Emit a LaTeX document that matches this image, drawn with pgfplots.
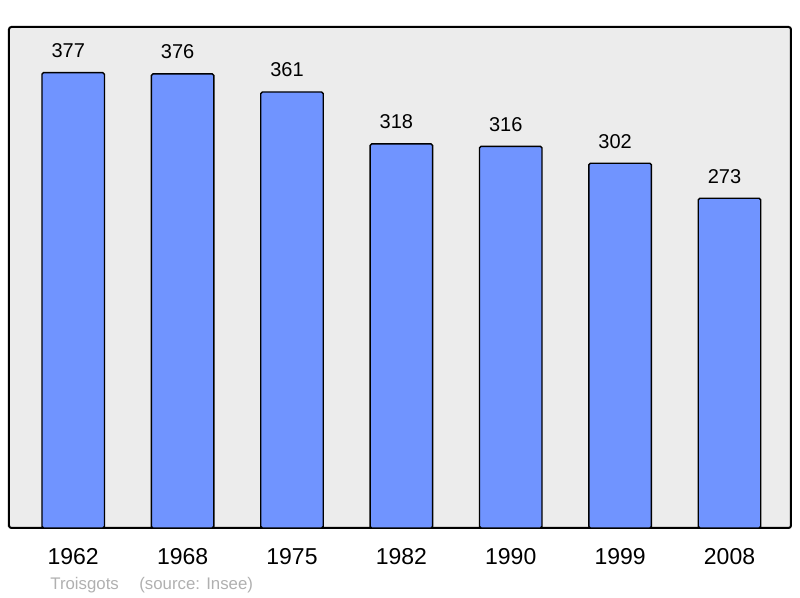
\documentclass[border=0pt]{standalone}
\usepackage{fontspec}
\setmainfont{Liberation Sans}
\usepackage{pgfplots}
\pgfplotsset{compat=1.18}
\definecolor{panelgray}{RGB}{236,236,236}
\definecolor{barblue}{RGB}{112,148,255}
\definecolor{notegray}{RGB}{176,176,176}

\begin{document}
\begin{tikzpicture}
\useasboundingbox (0,0) rectangle (400pt,299pt);
\begin{axis}[
  at={(4.5pt,35pt)},anchor=south west,
  scale only axis,width=391pt,height=250.5pt,
  xmin=-0.587,xmax=6.562,ymin=0,ymax=414.8,
  axis background/.style={fill=panelgray},
  axis line style={line width=1pt,rounded corners=1.2pt},
  ytick=\empty,
  xtick={0,...,6},
  xticklabels={1962,1968,1975,1982,1990,1999,2008},
  major tick length=0pt,
  xticklabel style={font=\fontsize{11.5}{12}\selectfont,anchor=base,yshift=-18.5pt},
  /pgf/number format/assume math mode=true,
  ybar,bar width=31.25pt,
  nodes near coords,
  every node near coord/.append style={font=\fontsize{10}{11}\selectfont,anchor=base,xshift=-2.5pt,yshift=7.5pt},
]
\addplot[draw=black,fill=barblue,line width=0.7pt,rounded corners=0.8pt] coordinates {
  (0,377) (1,376) (2,361) (3,318) (4,316) (5,302) (6,273)};
\end{axis}
\node[anchor=base west,inner sep=0pt,text=notegray,font=\fontsize{8.4}{10}\selectfont] at (25pt,4pt) {Troisgots};
\node[anchor=base west,inner sep=0pt,text=notegray,font=\fontsize{8.4}{10}\selectfont] at (69.5pt,4pt) {(source: Insee)};
\end{tikzpicture}
\end{document}
